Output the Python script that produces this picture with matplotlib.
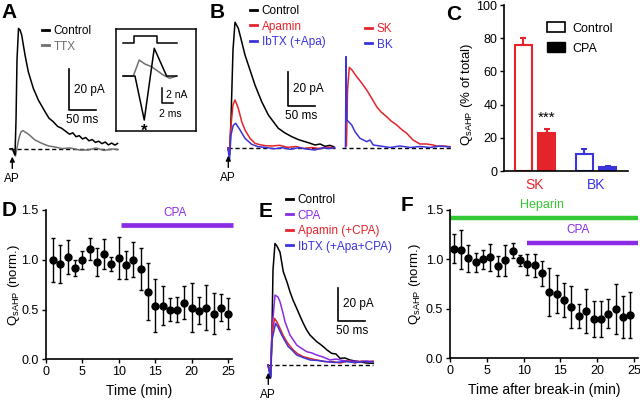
import matplotlib
matplotlib.use('Agg')
import matplotlib.pyplot as plt
from matplotlib.lines import Line2D
from matplotlib.patches import Patch
from matplotlib.legend import Legend

plt.rcParams['font.family'] = ['Liberation Sans', 'DejaVu Sans']
plt.rcParams['mathtext.fontset'] = 'custom'
plt.rcParams['mathtext.rm'] = 'Liberation Sans'
plt.rcParams['mathtext.it'] = 'Liberation Sans:italic'
plt.rcParams['mathtext.bf'] = 'Liberation Sans:bold'

W, H = 640, 400
RED = '#e5232b'
BLUE = '#3a34da'
PURPLE = '#8b2be6'
GREEN = '#34c934'
GRAY = '#6f6f6f'

# ---- A: sAHP current, control vs TTX (ms, pA) ----
a_ctrl_t = [-4.3, 0, 3.1, 5.0, 6.9, 8.7, 11.5, 14.3, 17.4, 23.5, 29.6, 38.9, 48.2, 60.6, 68, 75.9,
            84, 91.5, 100, 106, 112, 118, 124, 130, 136, 142, 148, 154, 160, 166, 172, 178, 184, 190, 195]
a_ctrl_i = [0, 0.2, -1.5, -2.9, 14.2, 43.4, 58.8, 58.1, 55.6, 45.9, 37.7, 29.6, 23.9, 18.2, 15.0, 13.3,
            11.0, 10.1, 8.4, 7.2, 7.9, 6.0, 6.5, 4.9, 5.6, 4.0, 4.6, 3.2, 3.8, 2.6, 3.4, 2.0, 2.9, 1.9, 2.7]
a_ttx_t = [-4.3, 0, 3.1, 5.9, 8.7, 12.4, 16.1, 19.8, 23.5, 29.6, 42, 54.4, 66.7, 79, 92, 107, 125, 140,
           155, 170, 185, 194]
a_ttx_i = [0, 0, -2.0, -3.4, 0.5, 5.4, 8.3, 9.0, 8.3, 7.3, 4.4, 2.8, 1.5, 1.0, 0.2, 0.5, -0.5, -0.5,
           0.5, -0.7, 0, -0.2]

# inset: command step and action currents (ms, nA)
inset_cmd_t = [1.2, 3.0, 3.0, 7.1, 7.1, 10.4]
inset_cmd_v = [4.4, 4.4, 5.3, 5.3, 4.4, 4.4]
inset_ctrl_t = [1.2, 3.25, 4.84, 6.55, 8.67, 10.4]
inset_ctrl_i = [0, 0, -5.87, 3.7, 0, 0]
inset_ttx_t = [1.2, 2.96, 3.98, 4.96, 6.1, 8.1, 9.2, 10.4]
inset_ttx_i = [0, 0, 2.13, 1.6, 1.24, 0.13, -0.3, 0]

# ---- B: pharmacology (ms, pA) ----
b_ctrl_t = [-0.6, 2.2, 5, 8.7, 12.4, 18.5, 24.8, 30.9, 40.2, 49.4, 61.9, 74.1, 92.6, 105, 117.4, 130,
            142, 150, 160.6, 170, 179, 188, 195]
b_ctrl_i = [0, -4.2, 16.8, 58.7, 75.3, 71.7, 63.7, 55.7, 46.7, 37.7, 27.7, 19.8, 11.8, 9.0, 6.8, 5.0,
            3.8, 3.0, 1.8, 2.4, 1.0, 1.6, 0.8]
b_apa_t = [-0.6, 2.2, 5, 8.7, 12.4, 18.5, 24.8, 30.9, 40.2, 49.4, 58, 68, 80, 95, 110, 125, 140, 155,
           170, 185, 195]
b_apa_i = [0, -3, 13.8, 25.8, 28.8, 23.8, 15.8, 10.8, 5.8, 2.8, 2.0, 1.4, 1.2, 1.6, 0.4, 0.9, -0.3, 0.3,
           -0.4, 0.5, 0.2]
b_ibtx_t = [-0.6, 2.2, 5, 9, 13.7, 21.7, 30.9, 43.3, 55, 70, 85, 100, 115, 130, 145, 160, 175, 190, 197]
b_ibtx_i = [0, -7.2, 7.8, 13.5, 14.8, 10.8, 5.8, 2.2, 0.8, 0.3, -0.5, 0.2, -0.8, 0.2, -0.6, -1.2, 0.1,
            -0.3, 0.4]
sk_t = [218.8, 220.8, 224.1, 229, 237.8, 245.7, 256.3, 264.3, 274.8, 282.8, 293.4, 301.3, 311.9, 319.8,
        330.4, 342, 355, 367.4, 379, 388, 397.6, 410.6]
sk_i = [1.2, 34.7, 48.3, 46.7, 42.7, 39.5, 34.7, 30.5, 24.7, 21.6, 18.7, 16.2, 13.8, 11.4, 8.8, 4.8,
        2.4, 2.4, 1.8, 1.0, 1.2, 0.8]
bk_t = [217, 218, 219.5, 228.5, 234.6, 243.9, 256.3, 262.4, 268.5, 281, 299.5, 318, 337, 355, 373.5,
        392, 410.6]
bk_i = [0.6, 54.7, 16.8, 13.8, 9.8, 5.8, 3.8, 4.8, 1.8, 1.2, 0.3, 1.2, 0.3, 0.9, 0.3, 1.2, 0.6]

# ---- C: fraction of charge ----
channels = ['SK', 'BK']
channel_colors = [RED, BLUE]
c_ctrl = [76, 10]
c_ctrl_err = [4, 3]
c_cpa = [23, 2.6]
c_cpa_err = [2.4, 0.6]

# ---- D: CPA time course ----
d_time = list(range(1, 26))
d_mean = [1.00, 0.96, 1.03, 0.92, 1.00, 1.11, 0.98, 1.06, 0.96, 1.02, 0.95, 1.00, 0.91, 0.68, 0.54,
          0.54, 0.50, 0.50, 0.57, 0.52, 0.49, 0.52, 0.46, 0.52, 0.46]
d_sem = [0.22, 0.19, 0.17, 0.08, 0.09, 0.11, 0.14, 0.15, 0.07, 0.21, 0.14, 0.175, 0.21, 0.29, 0.27,
         0.20, 0.12, 0.125, 0.17, 0.25, 0.135, 0.225, 0.21, 0.135, 0.155]
d_cpa_on = (10.3, 25.6)

# ---- E: CPA then blockers (ms, pA) ----
e_ctrl_t = [-0.6, 4.5, 6.9, 8.8, 12.5, 16.3, 21.9, 28.1, 35, 40.6, 46.3, 53.2, 59.4, 65.6, 71.9, 78.1,
            83.7, 90.7, 96.8, 103, 110, 118.7, 126.8, 134.3, 143.7, 153, 162.4, 171.8, 183, 196.7]
e_ctrl_i = [0, -7, 21, 57, 73, 71.4, 67.8, 56, 49.8, 44, 39, 34, 29.4, 25, 21, 18, 16.2, 14, 12.6, 11,
            9, 7, 6.6, 4, 4.2, 3, 2.4, 2, 1.2, 1]
e_cpa_t = [-0.6, 4.5, 6.9, 12.5, 18.2, 21.9, 27.5, 31.3, 40.6, 53.2, 61.2, 71.9, 81.8, 90.7, 102.5,
           115.6, 126.8, 140.5, 153, 171.8, 185, 196]
e_cpa_i = [0, -7, 21, 42, 40.8, 38, 31.2, 26, 18, 12, 10.2, 8, 7.2, 6, 4.8, 3, 3.6, 2.6, 2.4, 2, 2.4, 2]
e_apa_t = [-0.6, 4.5, 6.9, 11.6, 16.3, 21.9, 27.5, 34.5, 40.6, 46.8, 55.6, 65.6, 78.1, 90.7, 106.2,
           121.2, 134.3, 149.3, 162.4, 175.5, 186.7, 196]
e_apa_i = [0, -4.2, 18, 28, 25.8, 22, 18, 14, 11.4, 9, 6.6, 5, 3.9, 3, 2, 2, 1.2, 2.4, 1.2, 2.4, 1.8, 2.4]
e_ibtx_t = [-0.6, 4.5, 6.9, 13.5, 18.2, 25.1, 31.3, 37.5, 44.4, 53.2, 65, 78.1, 93, 109.4, 125, 143.7,
            162.4, 181, 196]
e_ibtx_i = [0, -7.8, 15, 25, 22.8, 18, 14.4, 11, 9, 6, 4.5, 3, 2.7, 2, 1.5, 2.1, 1.5, 2.1, 1.8]

# ---- F: heparin + CPA time course ----
f_time = [0.5 + k for k in range(25)]
f_mean = [1.11, 1.10, 1.01, 0.97, 1.00, 1.02, 0.93, 0.99, 1.09, 0.99, 0.95, 0.94, 0.86, 0.67, 0.65,
          0.59, 0.52, 0.43, 0.48, 0.40, 0.40, 0.45, 0.50, 0.42, 0.44]
f_sem = [0.15, 0.195, 0.14, 0.095, 0.10, 0.14, 0.10, 0.16, 0.077, 0.058, 0.11, 0.12, 0.127, 0.24, 0.19,
         0.175, 0.215, 0.123, 0.22, 0.18, 0.18, 0.145, 0.25, 0.215, 0.23]
f_heparin_on = (0, 25.54)
f_cpa_on = (10.4, 25.54)

fig = plt.figure(figsize=(6.4, 4.0), dpi=100)


def box_axes(left, top, right, bottom):
    return fig.add_axes([left / W, 1 - bottom / H, (right - left) / W, (bottom - top) / H])


def trace_axes(box, x0, y0, ms_px, pa_px):
    l, t, r, b = box
    ax = box_axes(l, t, r, b)
    ax.set_xlim((l - x0) * ms_px, (r - x0) * ms_px)
    ax.set_ylim((y0 - b) * pa_px, (y0 - t) * pa_px)
    ax.set_axis_off()
    return ax


def scale_bar(ax, x, y, ms=50, pa=20):
    ax.plot([x, x, x + ms], [y + pa, y, y], color='k', lw=1.2)
    ax.annotate(f'{pa} pA', (x, y + pa / 2), xytext=(3.5, 0), textcoords='offset points',
                va='center', fontsize=8.5)
    ax.annotate(f'{ms} ms', (x + ms / 2, y), xytext=(0, -7.5), textcoords='offset points',
                ha='center', va='center', fontsize=8.5)


def ap_mark(ax):
    ax.annotate('', xy=(0, 0), xytext=(0, -14), textcoords='offset points',
                arrowprops=dict(arrowstyle='-|>', color='k', lw=1, mutation_scale=7,
                                shrinkA=0, shrinkB=5.5))
    ax.annotate('AP', (0, 0), xytext=(0, -21.5), textcoords='offset points',
                ha='center', va='center', fontsize=8.5)


def baseline(ax, t0, t1):
    ax.plot([t0, t1], [0, 0], color='k', lw=1, dashes=(3, 2))


def trace_legend(ax, labels, colors, x, y):
    handles = [Line2D([], [], color=c, lw=2) for c in colors]
    leg = Legend(ax, handles, labels, loc='upper left', bbox_to_anchor=(x / W, 1 - y / H),
                 bbox_transform=fig.transFigure, frameon=False, handlelength=0.6,
                 handletextpad=0.4, labelspacing=0.3, borderpad=0, borderaxespad=0,
                 fontsize=8.5, labelcolor=colors)
    ax.add_artist(leg)


def time_axes(ax, xmax):
    for s in ['top', 'right']:
        ax.spines[s].set_visible(False)
    for s in ['left', 'bottom']:
        ax.spines[s].set_linewidth(1.2)
    ax.set_ylim(0, 1.5)
    ax.set_xlim(0, xmax)
    ax.set_xticks([0, 5, 10, 15, 20, 25])
    ax.set_yticks([0, 0.5, 1.0, 1.5])
    ax.set_yticklabels(['0.0', '0.5', '1.0', '1.5'])
    ax.tick_params(direction='out', length=3, width=1, labelsize=9, pad=2)
    ax.set_ylabel(r'Q$_{\mathrm{sAHP}}$ (norm.)', fontsize=9.5)


# ---- panel A ----
axa = trace_axes((0, 10, 122, 195), 12.3, 149, 50 / 27, 20 / 41)
baseline(axa, a_ctrl_t[0], a_ctrl_t[-1])
axa.plot(a_ttx_t, a_ttx_i, color=GRAY, lw=1.1)
axa.plot(a_ctrl_t, a_ctrl_i, color='k', lw=1.1)
scale_bar(axa, 105, 19)
ap_mark(axa)
trace_legend(axa, ['Control', 'TTX'], ['k', GRAY], 41.7, 25)

axi = box_axes(116, 29, 196, 131)
axi.set_xlim(0, 13.7)
axi.set_ylim(-7.33, 6.27)
axi.set_xticks([])
axi.set_yticks([])
for s in axi.spines.values():
    s.set_linewidth(1.1)
axi.plot(inset_cmd_t, inset_cmd_v, color='k', lw=1.1)
axi.plot(inset_ttx_t, inset_ttx_i, color=GRAY, lw=1.1)
axi.plot(inset_ctrl_t, inset_ctrl_i, color='k', lw=1.1)
axi.plot([7.8, 7.8, 9.8], [-1.64, -3.64, -3.64], color='k', lw=1.1)
axi.text(8.5, -2.5, '2 nA', fontsize=7.5, va='center')
axi.text(7.4, -5.1, '2 ms', fontsize=7.5, va='center')
axi.text(4.84, -7.4, '*', fontsize=12, ha='center', va='center', fontweight='bold')

# ---- panel B ----
axb = trace_axes((205, 0, 455, 195), 228.3, 148, 50 / 27, 20 / 33.4)
baseline(axb, -0.6, 198)
baseline(axb, 210.6, 414)
axb.plot(b_ctrl_t, b_ctrl_i, color='k', lw=1.1)
axb.plot(b_apa_t, b_apa_i, color=RED, lw=1.1)
axb.plot(b_ibtx_t, b_ibtx_i, color=BLUE, lw=1.1)
axb.plot(sk_t, sk_i, color=RED, lw=1.1)
axb.plot(bk_t, bk_i, color=BLUE, lw=1.1)
scale_bar(axb, 110, 25.3)
ap_mark(axb)
trace_legend(axb, ['Control', 'Apamin', 'IbTX (+Apa)'], ['k', RED, BLUE], 250, 5)
trace_legend(axb, ['SK', 'BK'], [RED, BLUE], 365, 23)

# ---- panel C ----
axc = box_axes(504.3, 5, 628.3, 171)
xpos = [0, 1]
bw, off = 0.28, 0.19
for k in range(2):
    col = channel_colors[k]
    axc.bar(xpos[k] - off, c_ctrl[k], bw, facecolor='white', edgecolor=col, lw=1.5)
    axc.bar(xpos[k] + off, c_cpa[k], bw, facecolor=col, edgecolor=col, lw=1.5)
    axc.errorbar([xpos[k] - off, xpos[k] + off], [c_ctrl[k], c_cpa[k]],
                 yerr=[[0, 0], [c_ctrl_err[k], c_cpa_err[k]]], fmt='none', ecolor=col,
                 elinewidth=1.5, capsize=2.5, capthick=1.5)
axc.text(0 + off, c_cpa[0] + 9, '***', ha='center', va='center', fontsize=11)
axc.set_xlim(-0.503, 1.53)
axc.set_ylim(0, 100)
axc.set_yticks([0, 20, 40, 60, 80, 100])
axc.set_xticks(xpos)
axc.set_xticklabels(channels, fontsize=10)
for lab, col in zip(axc.get_xticklabels(), channel_colors):
    lab.set_color(col)
axc.tick_params(axis='y', direction='out', length=3, width=1, labelsize=9, pad=2)
axc.tick_params(axis='x', length=0, pad=5)
for s in ['top', 'right']:
    axc.spines[s].set_visible(False)
for s in ['left', 'bottom']:
    axc.spines[s].set_linewidth(1.2)
axc.set_ylabel(r'Q$_{\mathrm{sAHP}}$ (% of total)', fontsize=9.5)
axc.yaxis.set_label_coords(-0.236, 0.46)
axc.legend([Patch(facecolor='white', edgecolor='k', lw=1.2), Patch(facecolor='k', edgecolor='k')],
           ['Control', 'CPA'], loc='upper left', bbox_to_anchor=(546.7 / W, 1 - 22 / H),
           bbox_transform=fig.transFigure, frameon=False, handlelength=1.45, handleheight=0.9,
           handletextpad=0.6, labelspacing=0.6, borderpad=0, borderaxespad=0, fontsize=9)

# ---- panel D ----
axd = box_axes(45.7, 210, 232.3, 359.3)
time_axes(axd, 25.56)
axd.errorbar(d_time, d_mean, yerr=d_sem, fmt='o', color='k', ms=5, capsize=1.5,
             elinewidth=1, capthick=1, clip_on=False)
axd.plot(d_cpa_on, [1.35, 1.35], color=PURPLE, lw=3.4, solid_capstyle='butt', clip_on=False)
axd.text(17.7, 1.47, 'CPA', color=PURPLE, ha='center', va='center', fontsize=8.5)
axd.set_xlabel('Time (min)', fontsize=10)
axd.yaxis.set_label_coords(-0.129, 0.5)

# ---- panel E ----
axe = trace_axes((250, 190, 395, 400), 268.3, 365, 50 / 26.7, 20 / 33.3)
baseline(axe, -0.6, 196)
axe.plot(e_ctrl_t, e_ctrl_i, color='k', lw=1.1)
axe.plot(e_cpa_t, e_cpa_i, color=PURPLE, lw=1.1)
axe.plot(e_apa_t, e_apa_i, color=RED, lw=1.1)
axe.plot(e_ibtx_t, e_ibtx_i, color=BLUE, lw=1.1)
scale_bar(axe, 131.1, 26.4)
ap_mark(axe)
trace_legend(axe, ['Control', 'CPA', 'Apamin (+CPA)', 'IbTX (+Apa+CPA)'],
             ['k', PURPLE, RED, BLUE], 285.7, 194)

# ---- panel F ----
axf = box_axes(450, 210, 638, 358.3)
time_axes(axf, 25.54)
axf.errorbar(f_time, f_mean, yerr=f_sem, fmt='o', color='k', ms=5, capsize=1.5,
             elinewidth=1, capthick=1, clip_on=False)
axf.plot(f_heparin_on, [1.42, 1.42], color=GREEN, lw=3.2, solid_capstyle='butt', clip_on=False)
axf.plot(f_cpa_on, [1.163, 1.163], color=PURPLE, lw=3.2, solid_capstyle='butt', clip_on=False)
axf.text(12.5, 1.55, 'Heparin', color=GREEN, ha='center', va='center', fontsize=9)
axf.text(17.4, 1.30, 'CPA', color=PURPLE, ha='center', va='center', fontsize=8.5)
axf.set_xlabel('Time after break-in (min)', fontsize=10)
axf.yaxis.set_label_coords(-0.142, 0.5)

# panel letters
for letter, x, y in [('A', 8.8, 12.8), ('B', 217.5, 12.5), ('C', 454, 14),
                     ('D', 9, 210.5), ('E', 265.8, 211.5), ('F', 407.5, 205.5)]:
    fig.text(x / W, 1 - y / H, letter, fontsize=15, fontweight='bold', ha='center', va='center')

fig.savefig('out.png', dpi=100)
